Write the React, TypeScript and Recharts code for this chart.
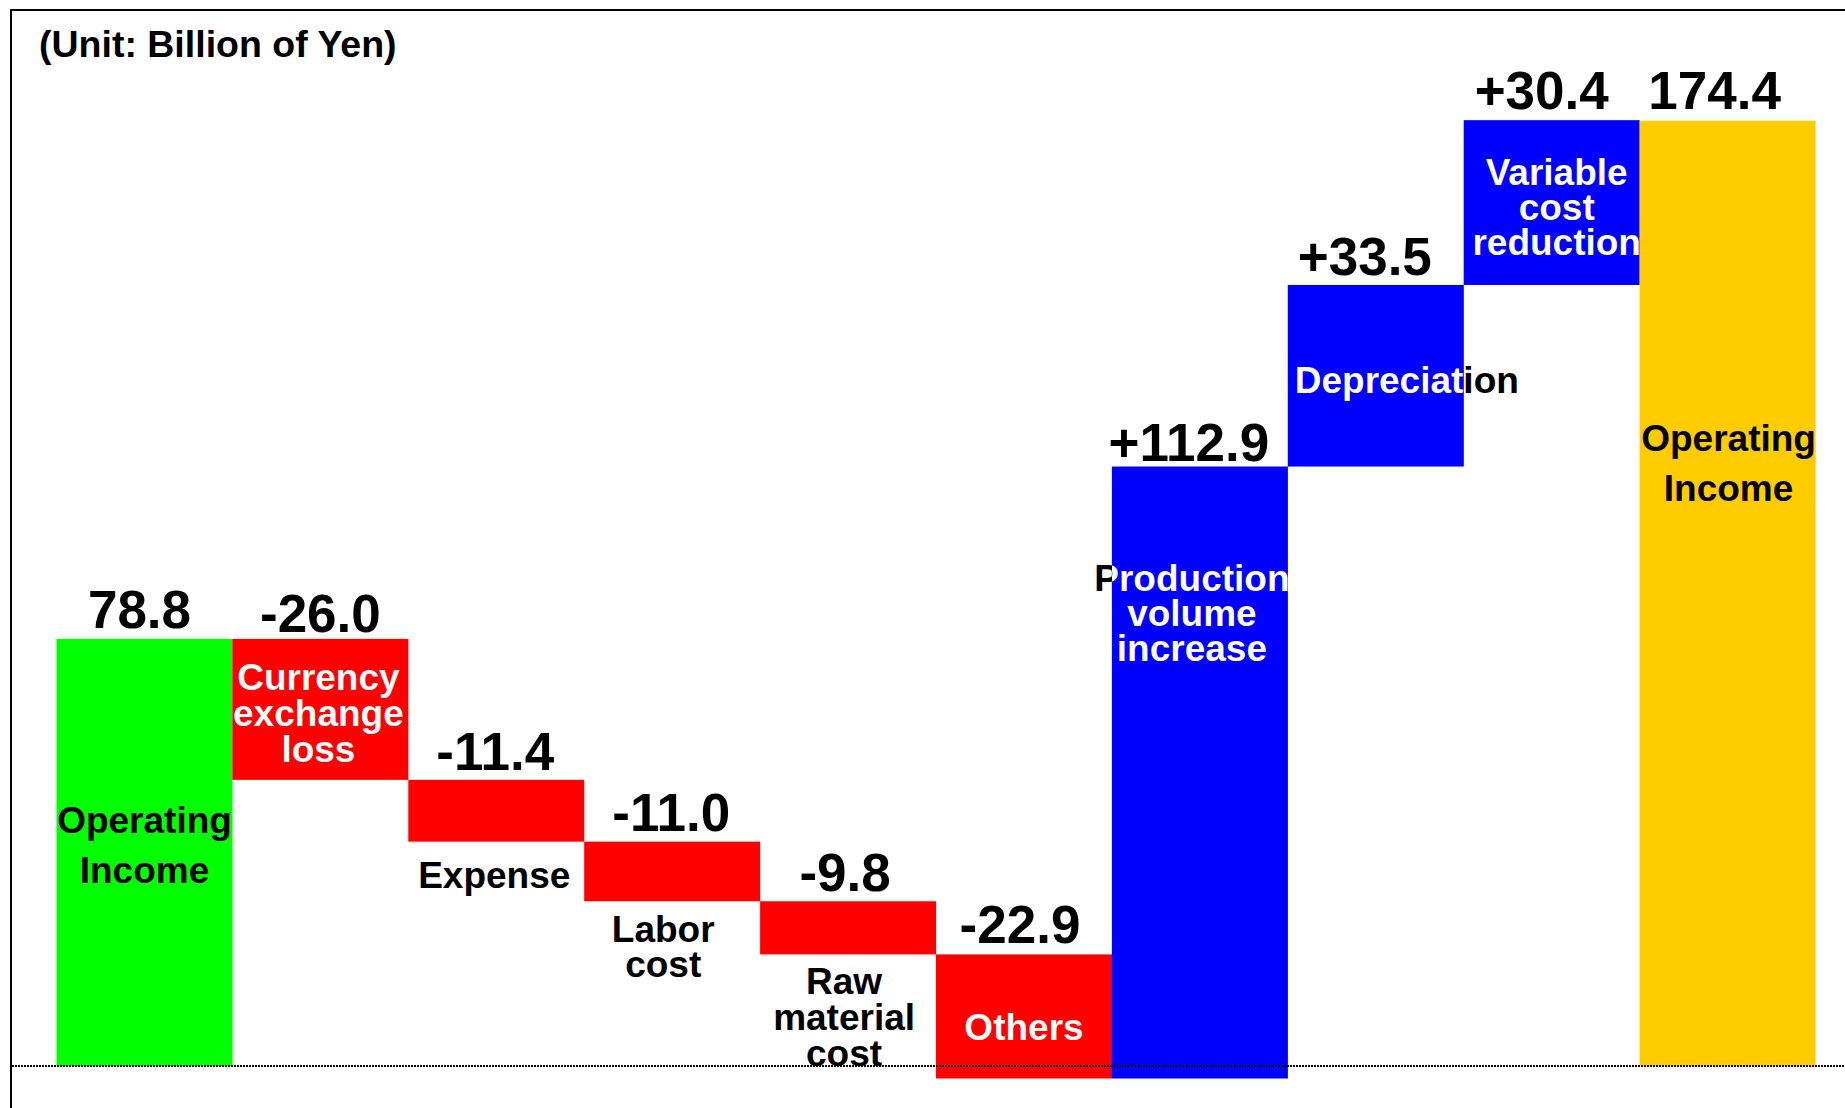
import { BarChart, Bar, XAxis, YAxis, ReferenceLine } from 'recharts';

// categories in order, with the way each one is broken into lines
const categories = [
  'Operating Income', 'Currency exchange loss', 'Expense', 'Labor cost', 'Raw material cost',
  'Others', 'Production volume increase', 'Depreciation', 'Variable cost reduction', 'Operating Income',
];
const categoryLines = [
  ['Operating', 'Income'], ['Currency', 'exchange', 'loss'], ['Expense'], ['Labor', 'cost'],
  ['Raw', 'material', 'cost'], ['Others'], ['Production', 'volume', 'increase'], ['Depreciation'],
  ['Variable', 'cost', 'reduction'], ['Operating', 'Income'],
];
const kinds = ['total', 'delta', 'delta', 'delta', 'delta', 'delta', 'delta', 'delta', 'delta', 'total'];
const amounts = [78.8, -26.0, -11.4, -11.0, -9.8, -22.9, 112.9, 33.5, 30.4, 174.4];
const valueLabels = ['78.8', '-26.0', '-11.4', '-11.0', '-9.8', '-22.9', '+112.9', '+33.5', '+30.4', '174.4'];

const barColors = ['#00ff00', '#ff0000', '#ff0000', '#ff0000', '#ff0000', '#ff0000', '#0000ff', '#0000ff', '#0000ff', '#ffcc00'];

// where the text goes relative to each bar (px)
const textLayout = [
  { place: 'in', dy: 194, dx: 0, lh: 50, white: false, vdx: -5, vdy: 11 },
  { place: 'in', dy: 51, dx: -2, lh: 36, white: true, vdx: 0, vdy: 7 },
  { place: 'below', dy: 46, dx: -2, lh: 36, white: false, vdx: -1, vdy: 10 },
  { place: 'below', dy: 41, dx: -9, lh: 35, white: false, vdx: -1, vdy: 11 },
  { place: 'below', dy: 40, dx: -4, lh: 36, white: false, vdx: -3, vdy: 10 },
  { place: 'in', dy: 86, dx: 0, lh: 36, white: true, vdx: -4, vdy: 11 },
  { place: 'in', dy: 124, dx: -8, lh: 35, white: true, vdx: -11, vdy: 6 },
  { place: 'in', dy: 108, dx: 31, lh: 35, white: true, vdx: -11, vdy: 10 },
  { place: 'in', dy: 65, dx: 5, lh: 35, white: true, vdx: -10, vdy: 11 },
  { place: 'in', dy: 330, dx: 1, lh: 50, white: false, vdx: -13, vdy: 12 },
];

const FONT = 'Arial, "Liberation Sans", Helvetica, sans-serif';
const W = 1845;
const H = 1108;

let running = 0;
const ranges = amounts.map((v, i) => {
  if (kinds[i] === 'total') {
    running = v;
    return [0, v];
  }
  const start = running;
  running += v;
  return [Math.min(start, running), Math.max(start, running)];
});

const chartData = categories.map((name, i) => ({ name, range: ranges[i] }));

function WaterfallShape(props: any) {
  const { x, y, width, height, index } = props;
  const top = Math.min(y, y + height);
  const h = Math.abs(height);
  const L = textLayout[index];
  const lines = categoryLines[index];
  const cx = x + width / 2;
  const baseY = L.place === 'in' ? top + L.dy : top + h + L.dy;
  const gradId = `wf-grad-${index}`;
  // white where the text sits on the bar, black where it runs past its edge
  const a = x / W;
  const b = (x + width) / W;

  return (
    <g>
      <rect x={x} y={top} width={width} height={h} fill={barColors[index]} />
      {L.white && (
        <defs>
          <linearGradient id={gradId} gradientUnits="userSpaceOnUse" x1={0} y1={0} x2={W} y2={0}>
            <stop offset={a} stopColor="#000" />
            <stop offset={a} stopColor="#fff" />
            <stop offset={b} stopColor="#fff" />
            <stop offset={b} stopColor="#000" />
          </linearGradient>
        </defs>
      )}
      <text x={cx + L.dx} y={baseY} textAnchor="middle" fontSize={37} fontWeight={700} fontFamily={FONT}
        fill={L.white ? `url(#${gradId})` : '#000'}>
        {lines.map((ln, i) => (
          <tspan key={i} x={cx + L.dx} dy={i === 0 ? 0 : L.lh}>{ln}</tspan>
        ))}
      </text>
      <text x={cx + L.vdx} y={top - L.vdy} textAnchor="middle" fontSize={53} fontWeight={700} fontFamily={FONT} fill="#000">
        {valueLabels[index]}
      </text>
    </g>
  );
}

export default function App() {
  return (
    <div style={{ position: 'absolute', left: 0, top: 0, width: W, height: H, background: '#fff', overflow: 'hidden' }}>
      <div style={{ position: 'absolute', left: 10, top: 9, width: W, height: H, borderLeft: '2px solid #000', borderTop: '2px solid #000' }} />
      <div style={{ position: 'absolute', left: 39, top: 26, fontFamily: FONT, fontWeight: 700, fontSize: 37.5, lineHeight: '37px', whiteSpace: 'nowrap', color: '#000' }}>
        (Unit: Billion of Yen)
      </div>
      <div style={{ position: 'absolute', left: 0, top: 0 }}>
        <BarChart width={W} height={H} data={chartData} barCategoryGap={0} margin={{ top: 47, right: 0, bottom: 4, left: 12 }}>
          <XAxis dataKey="name" hide padding={{ left: 44.5, right: 29.5 }} />
          <YAxis hide type="number" domain={[-7, 188]} allowDataOverflow />
          <Bar dataKey="range" shape={WaterfallShape} isAnimationActive={false} />
          <ReferenceLine y={0} stroke="#000" strokeWidth={2} strokeDasharray="2 1" />
        </BarChart>
      </div>
    </div>
  );
}
